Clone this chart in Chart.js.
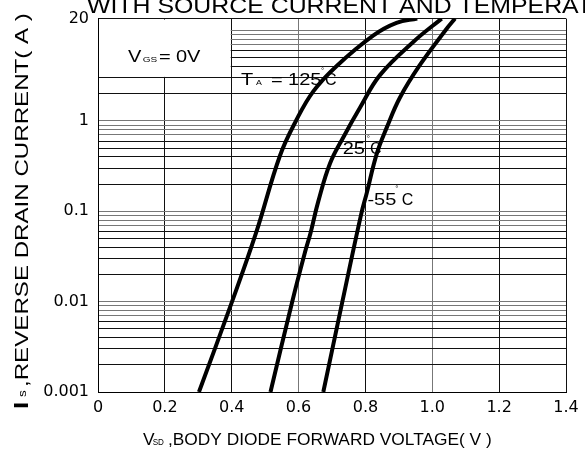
<!DOCTYPE html>
<html>
<head>
<meta charset="utf-8">
<script src="https://cdn.jsdelivr.net/npm/chart.js@4.4.1/dist/chart.umd.min.js"></script>
<style>
  html, body { margin: 0; padding: 0; background: #fff; }
  #wrap { width: 585px; height: 450px; }
</style>
</head>
<body>
<div id="wrap"><canvas id="chart" width="585" height="450"></canvas></div>
<script>
// Is vs Vsd (V, A)
const temps = ['125', '25', '-55'];
const vsd125 = [0.302, 0.401, 0.473, 0.544, 0.592, 0.644, 0.714, 0.824, 0.893, 0.955];
const is125  = [0.001, 0.01, 0.058, 0.41, 1.0, 2.13, 4.07, 8.87, 12.2, 13.6];
const vsd25  = [0.516, 0.581, 0.619, 0.636, 0.659, 0.694, 0.734, 0.784, 0.844, 0.943, 1.028];
const is25   = [0.001, 0.01, 0.035, 0.058, 0.129, 0.339, 0.662, 1.41, 3.24, 7.5, 13.6];
const vsdM55 = [0.674, 0.731, 0.787, 0.804, 0.834, 0.864, 0.903, 0.963, 1.043, 1.068];
const isM55  = [0.001, 0.01, 0.092, 0.16, 0.435, 0.85, 1.81, 4.17, 10.5, 13.6];

const xTicks = [0, 0.2, 0.4, 0.6, 0.8, 1.0, 1.2, 1.4];
const xTickLabels = ['0', '0.2', '0.4', '0.6', '0.8', '1.0', '1.2', '1.4'];
// the sheet squeezes its top decade, the top edge is marked "20"
const yTop = 13.6;
const yLabelValues = [0.001, 0.01, 0.1, 1, yTop];
const yTickLabels = ['0.001', '0.01', '0.1', '1', '20'];

// where the notes sit, in axis units (V, A)
const tempLabelAt = [[0.428, 2.52], [0.732, 0.435], [0.806, 0.119]];
const vgsLabelAt = [0.0897, 4.54];

// log grid: 1..9 per decade
const yGrid = [];
for (let e = -3; e <= 0; e++) {
  for (let k = 1; k <= 9; k++) yGrid.push(+(k * Math.pow(10, e)).toPrecision(3));
}
yGrid.push(10, yTop);

const AF = 'Liberation Sans, Arial, sans-serif';

function toPts(xs, ys) {
  return xs.map((v, i) => ({ x: v, y: ys[i] }));
}

// draws pieces of text at offsets from an anchor, each with its own size / stretch
function rich(ctx, x, y, parts) {
  parts.forEach(p => {
    ctx.save();
    ctx.font = p.font;
    ctx.translate(x + (p.dx || 0), y + (p.dy || 0));
    ctx.scale(p.sx || 1, 1);
    ctx.fillText(p.t, 0, 0);
    ctx.restore();
  });
}

const sheetText = {
  id: 'sheetText',
  beforeDatasetsDraw(chart) {
    // blank cell block behind the VGS note
    const { ctx, chartArea: a, scales: { x, y } } = chart;
    const x1 = x.getPixelForValue(0.4), y1 = y.getPixelForValue(3);
    ctx.save();
    ctx.fillStyle = '#fff';
    ctx.fillRect(a.left + 1, a.top + 1, x1 - a.left - 2, y1 - a.top - 2);
    ctx.restore();
  },
  afterDraw(chart) {
    const { ctx, scales: { x, y } } = chart;
    ctx.save();
    ctx.fillStyle = '#000';
    ctx.textBaseline = 'alphabetic';
    ctx.textAlign = 'left';

    // title, cut off by the top of the page like the scan
    rich(ctx, 87, 12.5, [{ t: 'WITH SOURCE CURRENT AND TEMPERATURE', font: '22px ' + AF, sx: 1.13 }]);

    const s16 = '16px ' + AF, s8 = '8px ' + AF;
    rich(ctx, x.getPixelForValue(vgsLabelAt[0]), y.getPixelForValue(vgsLabelAt[1]), [
      { t: 'V', font: s16, sx: 1.25 },
      { t: 'GS', font: s8, sx: 1.25, dx: 14.7 },
      { t: '=', font: s16, sx: 1.25, dx: 31 },
      { t: '0V', font: s16, sx: 1.25, dx: 48 }
    ]);

    // temperature notes
    let p = tempLabelAt[0];
    rich(ctx, x.getPixelForValue(p[0]), y.getPixelForValue(p[1]), [
      { t: 'T', font: s16, sx: 1.25 },
      { t: 'A', font: s8, sx: 1.1, dx: 15 },
      { t: '=', font: s16, sx: 1.25, dx: 30 },
      { t: temps[0], font: s16, sx: 1.25, dx: 47 },
      { t: '°', font: s8, dx: 80, dy: -12 },
      { t: 'C', font: s16, sx: 1.0, dx: 84 }
    ]);
    p = tempLabelAt[1];
    rich(ctx, x.getPixelForValue(p[0]), y.getPixelForValue(p[1]), [
      { t: temps[1], font: s16, sx: 1.25 },
      { t: '°', font: s8, dx: 24, dy: -12.5 },
      { t: 'C', font: s16, sx: 1.0, dx: 27.3 }
    ]);
    p = tempLabelAt[2];
    rich(ctx, x.getPixelForValue(p[0]), y.getPixelForValue(p[1]), [
      { t: temps[2], font: s16, sx: 1.25 },
      { t: '°', font: s8, dx: 27.8, dy: -14 },
      { t: 'C', font: s16, sx: 1.0, dx: 34.4 }
    ]);

    // x axis title
    rich(ctx, 143, 445, [
      { t: 'V', font: '16.5px ' + AF, sx: 1.05 },
      { t: 'SD', font: '9px ' + AF, sx: 0.9, dx: 9.7 },
      { t: ',BODY DIODE FORWARD VOLTAGE( V )', font: '16.5px ' + AF, sx: 1.05, dx: 25 }
    ]);

    // y axis title, reads bottom to top
    ctx.translate(28, 409);
    ctx.rotate(-Math.PI / 2);
    rich(ctx, 0, 0, [
      { t: 'I', font: 'bold 20px ' + AF, sx: 1.3 },
      { t: 's', font: '10px ' + AF, sx: 1.35, dx: 12, dy: -2.5 },
      { t: ',REVERSE DRAIN CURRENT( A )', font: '18px ' + AF, sx: 1.34, dx: 22 }
    ]);
    ctx.restore();
  }
};

const tickFont = { family: 'DejaVu Sans', size: 16 };

new Chart(document.getElementById('chart'), {
  type: 'line',
  data: {
    datasets: [
      { label: temps[0], data: toPts(vsd125, is125) },
      { label: temps[1], data: toPts(vsd25, is25) },
      { label: temps[2], data: toPts(vsdM55, isM55) }
    ].map(d => Object.assign(d, {
      borderColor: '#000',
      borderWidth: 4,
      pointRadius: 0,
      fill: false,
      tension: 0.4
    }))
  },
  options: {
    responsive: false,
    animation: false,
    layout: { padding: { top: 13, right: 19, left: 0, bottom: 0 } },
    plugins: {
      legend: { display: false },
      tooltip: { enabled: false },
      title: { display: false }
    },
    scales: {
      x: {
        type: 'linear',
        min: 0,
        max: 1.4,
        afterBuildTicks: s => { s.ticks = xTicks.map(v => ({ value: v })); },
        afterFit: s => { s.height = 58; },
        border: { display: true, color: '#000', width: 1 },
        grid: {
          drawTicks: false,
          lineWidth: 1,
          color: c => (c.tick && (Math.abs(c.tick.value - 0.6) < 1e-6 || Math.abs(c.tick.value - 1.0) < 1e-6)) ? '#777' : '#111'
        },
        ticks: {
          autoSkip: false,
          maxRotation: 0,
          padding: 6,
          color: '#000',
          font: tickFont,
          callback: (v, i) => xTickLabels[i]
        }
      },
      y: {
        type: 'logarithmic',
        min: 0.001,
        max: yTop,
        afterBuildTicks: s => { s.ticks = yGrid.map(v => ({ value: v })); },
        afterFit: s => { s.width = 98; },
        border: { display: true, color: '#000', width: 1 },
        grid: {
          drawTicks: false,
          lineWidth: 1,
          color: c => {
            if (!c.tick) return '#111';
            const v = c.tick.value;
            const sig = v / Math.pow(10, Math.floor(Math.log10(v) + 1e-9));
            return (sig > 6.5 || Math.abs(sig - 1) < 1e-6) ? '#777' : '#111';
          }
        },
        ticks: {
          autoSkip: false,
          padding: 9,
          color: '#000',
          font: tickFont,
          callback: v => {
            const i = yLabelValues.indexOf(v);
            return i >= 0 ? yTickLabels[i] : '';
          }
        }
      }
    }
  },
  plugins: [sheetText]
});
</script>
</body>
</html>
